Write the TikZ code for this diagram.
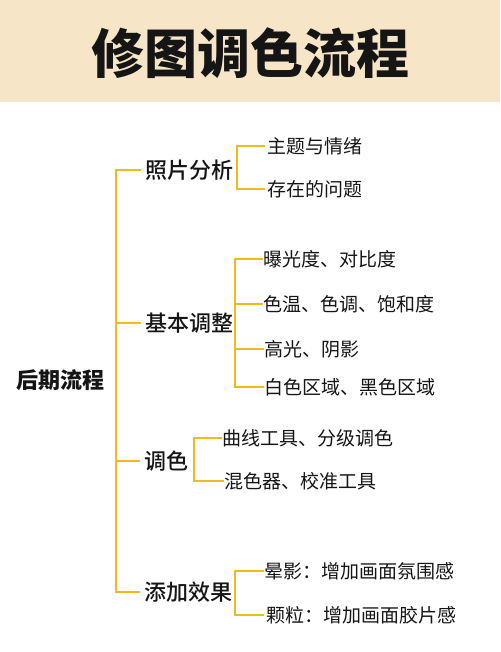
\documentclass[tikz,border=0pt]{standalone}
\usepackage{fontspec}
\setmainfont{Noto Sans CJK SC}
\newfontfamily\medfont{Noto Sans CJK SC}[UprightFont=* Medium]
\definecolor{band}{HTML}{F7E5C8}
\definecolor{gold}{HTML}{F2BA22}
\definecolor{ink}{HTML}{151515}
\begin{document}
\begin{tikzpicture}[x=1pt,y=-1pt,
  br/.style={draw=gold,line width=2pt},
  ttl/.style={font=\fontsize{53}{60}\selectfont\bfseries,text=ink,inner sep=0pt},
  rootn/.style={font=\fontsize{22}{26}\selectfont\bfseries,text=ink,inner sep=0pt,anchor=west},
  lvone/.style={font=\fontsize{22}{26}\selectfont\medfont,text=ink,inner sep=0pt,anchor=west},
  lvtwo/.style={font=\fontsize{19}{23}\selectfont,text=ink,inner sep=0pt,anchor=west}]
\useasboundingbox (0,0) rectangle (500,652);
\fill[band] (0,0) rectangle (500,102);
\node[ttl] (title) at (250,53) {修图调色流程};
% root
\node[rootn] (root) at (16,380) {后期流程};
% level 1
\node[lvone] (a) at (145,170) {照片分析};
\node[lvone] (b) at (145,323) {基本调整};
\node[lvone] (c) at (144,461) {调色};
\node[lvone] (d) at (144,592) {添加效果};
\coordinate (T) at (116,0);
\draw[br] ([xshift=-4pt]a.west) -- (a.west -| T) -- (d.west -| T) -- ([xshift=-4pt]d.west);
\draw[br] (b.west -| T) -- ([xshift=-4pt]b.west);
\draw[br] (c.west -| T) -- ([xshift=-4pt]c.west);
% level 2, group 1
\node[lvtwo] (a1) at (267,146) {主题与情绪};
\node[lvtwo] (a2) at (267,189) {存在的问题};
\coordinate (Ba) at ([xshift=4pt]a.east);
\draw[br] ([xshift=-2pt]a1.west) -- (a1.west -| Ba) -- (a2.west -| Ba) -- ([xshift=-2pt]a2.west);
% group 2
\node[lvtwo] (b1) at (263,259) {曝光度、对比度};
\node[lvtwo] (b2) at (263,304) {色温、色调、饱和度};
\node[lvtwo] (b3) at (264,349) {高光、阴影};
\node[lvtwo] (b4) at (264,387) {白色区域、黑色区域};
\coordinate (Bb) at ([xshift=2pt]b.east);
\draw[br] (b1.west) -- (b1.west -| Bb) -- (b4.west -| Bb) -- (b4.west);
\draw[br] (b2.west -| Bb) -- (b2.west);
\draw[br] (b3.west -| Bb) -- (b3.west);
% group 3
\node[lvtwo] (c1) at (222,438) {曲线工具、分级调色};
\node[lvtwo] (c2) at (224,481) {混色器、校准工具};
\coordinate (Bc) at ([xshift=6pt]c.east);
\draw[br] (c1.west) -- (c1.west -| Bc) -- (c2.west -| Bc) -- (c2.west);
% group 4
\node[lvtwo] (d1) at (264,571) {晕影：增加画面氛围感};
\node[lvtwo] (d2) at (266,615) {颗粒：增加画面胶片感};
\coordinate (Bd) at ([xshift=3pt]d.east);
\draw[br] (d1.west) -- (d1.west -| Bd) -- (d2.west -| Bd) -- ([xshift=-2pt]d2.west);
\end{tikzpicture}
\end{document}
